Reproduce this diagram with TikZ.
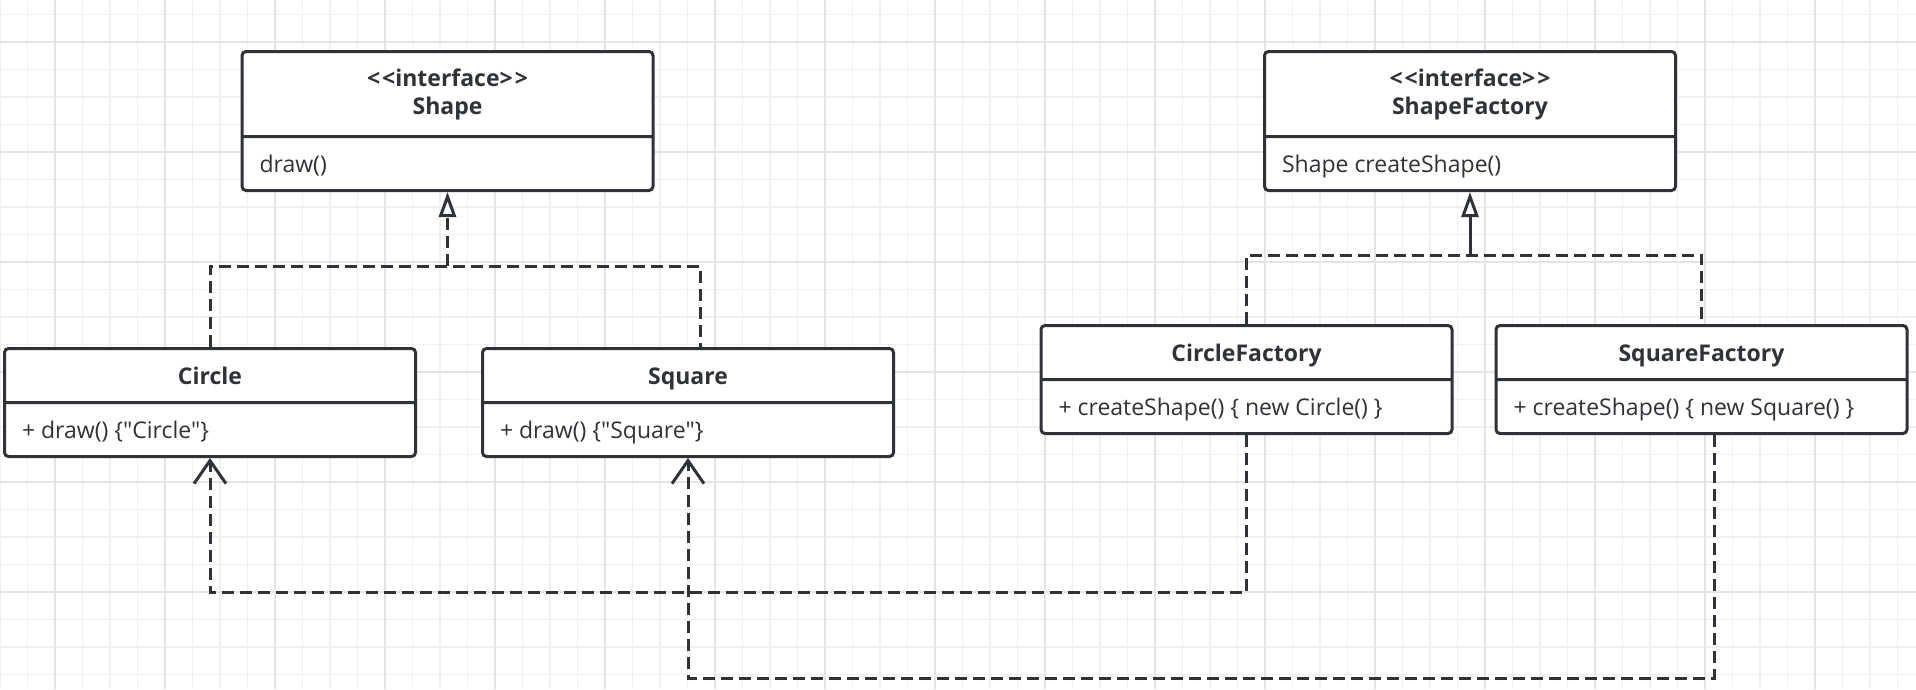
\documentclass[tikz,border=0pt]{standalone}
\usepackage{fontspec}
\setmainfont{Open Sans}[Ligatures=TeXOff]
\usepackage{tikz}
\usetikzlibrary{positioning}
\usetikzlibrary{shapes.multipart}
\usetikzlibrary{arrows.meta}

\definecolor{umldark}{HTML}{2F3236}
\definecolor{gridminor}{HTML}{F0F0F0}
\definecolor{gridmajor}{HTML}{E4E4E4}

\tikzset{
  umlclass/.style={rectangle split, rectangle split parts=2, draw=umldark,
    line width=3pt, rounded corners=4pt, fill=white, text=umldark,
    inner xsep=17.5pt, inner ysep=0pt, font=\fontsize{23}{28}\selectfont},
  realize/.style={draw=umldark, line width=3pt, dash pattern=on 12pt off 6pt},
  implstem/.style={draw=umldark, line width=3pt},
  depend/.style={draw=umldark, line width=3pt, dash pattern=on 12pt off 6pt,
    -{Straight Barb[length=23pt, width=32pt]}},
  hollow/.style={-{Triangle[open, length=25pt, width=17pt]}},
  minorline/.style={draw=gridminor, line width=1.3pt},
  majorline/.style={draw=gridmajor, line width=2pt}
}

\newcommand{\classname}[1]{\makebox[376pt][c]{\rule[-16.5pt]{0pt}{51pt}\textbf{#1}}}
\newcommand{\ifacename}[1]{\makebox[376pt][c]{\rule[-20.5pt]{0pt}{82pt}%
  \begin{tabular}[b]{@{}c@{}}\textbf{<\kern2pt<interface>\kern2pt>}\\ \textbf{#1}\end{tabular}}}
\newcommand{\classop}[2][16.5pt]{\makebox[376pt][l]{\rule[-#1]{0pt}{51pt}#2}}

\begin{document}
\begin{tikzpicture}[x=1pt, y=-1pt]
\useasboundingbox (0,0) rectangle (1916,689);
\fill[white] (0,0) rectangle (1916,689);
% grid
\foreach \i in {0,...,69} {
\draw[minorline] ({\i*27.5},0) -- ({\i*27.5},689);
}
\foreach \j in {0,...,24} {
\draw[minorline] (0,{14.5+\j*27.5}) -- (1916,{14.5+\j*27.5});
}
\foreach \i in {0,...,16} {
\draw[majorline] ({55+\i*110},0) -- ({55+\i*110},689);
}
\foreach \j in {0,...,5} {
\draw[majorline] (0,{42+\j*110}) -- (1916,{42+\j*110});
}

% interfaces
\node[umlclass, anchor=north] (shape) at (447.5,50)
  {\ifacename{Shape}\nodepart{two}\classop[17pt]{draw()}};
\node[umlclass, anchor=north] (shapefactory) at (1470,50)
  {\ifacename{ShapeFactory}\nodepart{two}\classop[17pt]{Shape createShape()}};

% products
\node[umlclass, anchor=north] (circle) at (210,347)
  {\classname{Circle}\nodepart{two}\classop{+ draw() \{"Circle"\}}};
\node[umlclass, right=64pt of circle] (square)
  {\classname{Square}\nodepart{two}\classop{+ draw() \{"Square"\}}};

% factories
\node[umlclass, anchor=north] (circlefactory) at (1246.5,324)
  {\classname{CircleFactory}\nodepart{two}\classop{+ createShape() \{ new Circle() \}}};
\node[umlclass, right=41pt of circlefactory] (squarefactory)
  {\classname{SquareFactory}\nodepart{two}\classop{+ createShape() \{ new Square() \}}};

% realizations
\coordinate (shapebus) at (447.5,266);
\draw[realize] (circle.north) |- (shapebus) -| ([xshift=12.5pt]square.north);
\draw[realize, hollow] (shapebus) -- (shape.south);
\coordinate (factorybus) at (1470,255);
\draw[realize] (circlefactory.north) |- (factorybus) -| (squarefactory.north);
\draw[implstem, hollow] (factorybus) -- (shapefactory.south);

% dependencies
\draw[depend] (circlefactory.south) -- ++(0,157) -| (circle.south);
\draw[depend] ([xshift=12.5pt]squarefactory.south) -- ++(0,243) -| (square.south);
\end{tikzpicture}
\end{document}
